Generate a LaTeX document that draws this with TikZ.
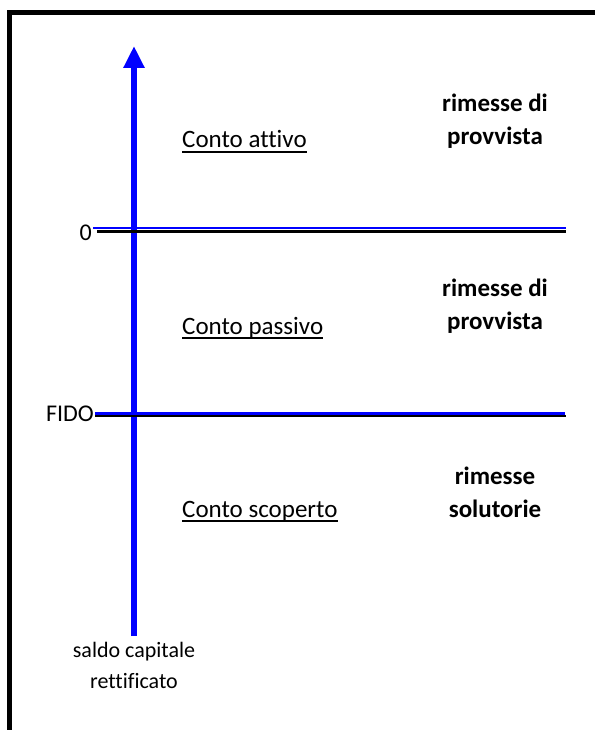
\documentclass[tikz,border=0pt]{standalone}
\usepackage{fontspec}
\setmainfont{Carlito}[Ligatures=NoCommon]
\usepackage{tikz}
\usetikzlibrary{arrows.meta}

\begin{document}
\begin{tikzpicture}[x=1pt,y=-1pt,
    conto/.style={anchor=base west, inner sep=0pt, font=\fontsize{25}{30}\selectfont},
    sotto/.style={black, line width=1.8pt},
    rimessa/.style={anchor=base, align=center, inner sep=0pt, font=\fontsize{25}{33}\selectfont\bfseries},
    livello/.style={anchor=east, inner sep=1pt, font=\fontsize{24}{28}\selectfont}]
    \useasboundingbox (0,0) rectangle (595,730);
    % cornice
    \coordinate (F1) at (9.5,730);
    \coordinate (F2) at (9.5,13);
    \coordinate (F3) at (595,13);
    \draw[black, line width=5pt] (F1) -- (F2) -- (F3);
    % asse verticale
    \coordinate (S) at (134,636);
    \coordinate (T) at (134,46);
    \draw[blue, line width=6.7pt, -{Triangle[length=22pt,width=20pt]}] (S) -- (T);
    \node[anchor=base, align=center, inner sep=0pt, font=\fontsize{22}{31}\selectfont] (saldo) at (134,688) {saldo capitale\\rettificato};
    % livello 0
    \node[livello] (zero) at (93,233) {0};
    \coordinate (Z1) at (97,231.7);
    \coordinate (Z2) at (566,231.7);
    \coordinate (Z3) at (566,227.7);
    \draw[black, line width=2.7pt] (Z1) -- (Z2);
    \draw[blue, line width=2pt] (zero.east |- Z3) -- (Z3);
    % livello fido
    \node[livello] (fido) at (95,414) {FIDO};
    \coordinate (D1) at (566,415.7);
    \coordinate (D2) at (565,413.3);
    \draw[black, line width=1.6pt] (fido.east |- D1) -- (D1);
    \draw[blue, line width=3pt] (fido.east |- D2) -- (D2);
    % conti
    \node[conto] (attivo) at (182,148) {Conto attivo};
    \node[conto] (passivo) at (182,334) {Conto passivo};
    \node[conto] (scoperto) at (182,517) {Conto scoperto};
    \draw[sotto] ([yshift=-4pt]attivo.base west) -- ([yshift=-4pt]attivo.base east);
    \draw[sotto] ([yshift=-4pt]passivo.base west) -- ([yshift=-4pt]passivo.base east);
    \draw[sotto] ([yshift=-4pt]scoperto.base west) -- ([yshift=-4pt]scoperto.base east);
    % rimesse
    \node[rimessa] (r1) at (495,145) {rimesse di\\provvista};
    \node[rimessa] (r2) at (495,329) {rimesse di\\provvista};
    \node[rimessa] (r3) at (495,517) {rimesse\\solutorie};
\end{tikzpicture}
\end{document}
